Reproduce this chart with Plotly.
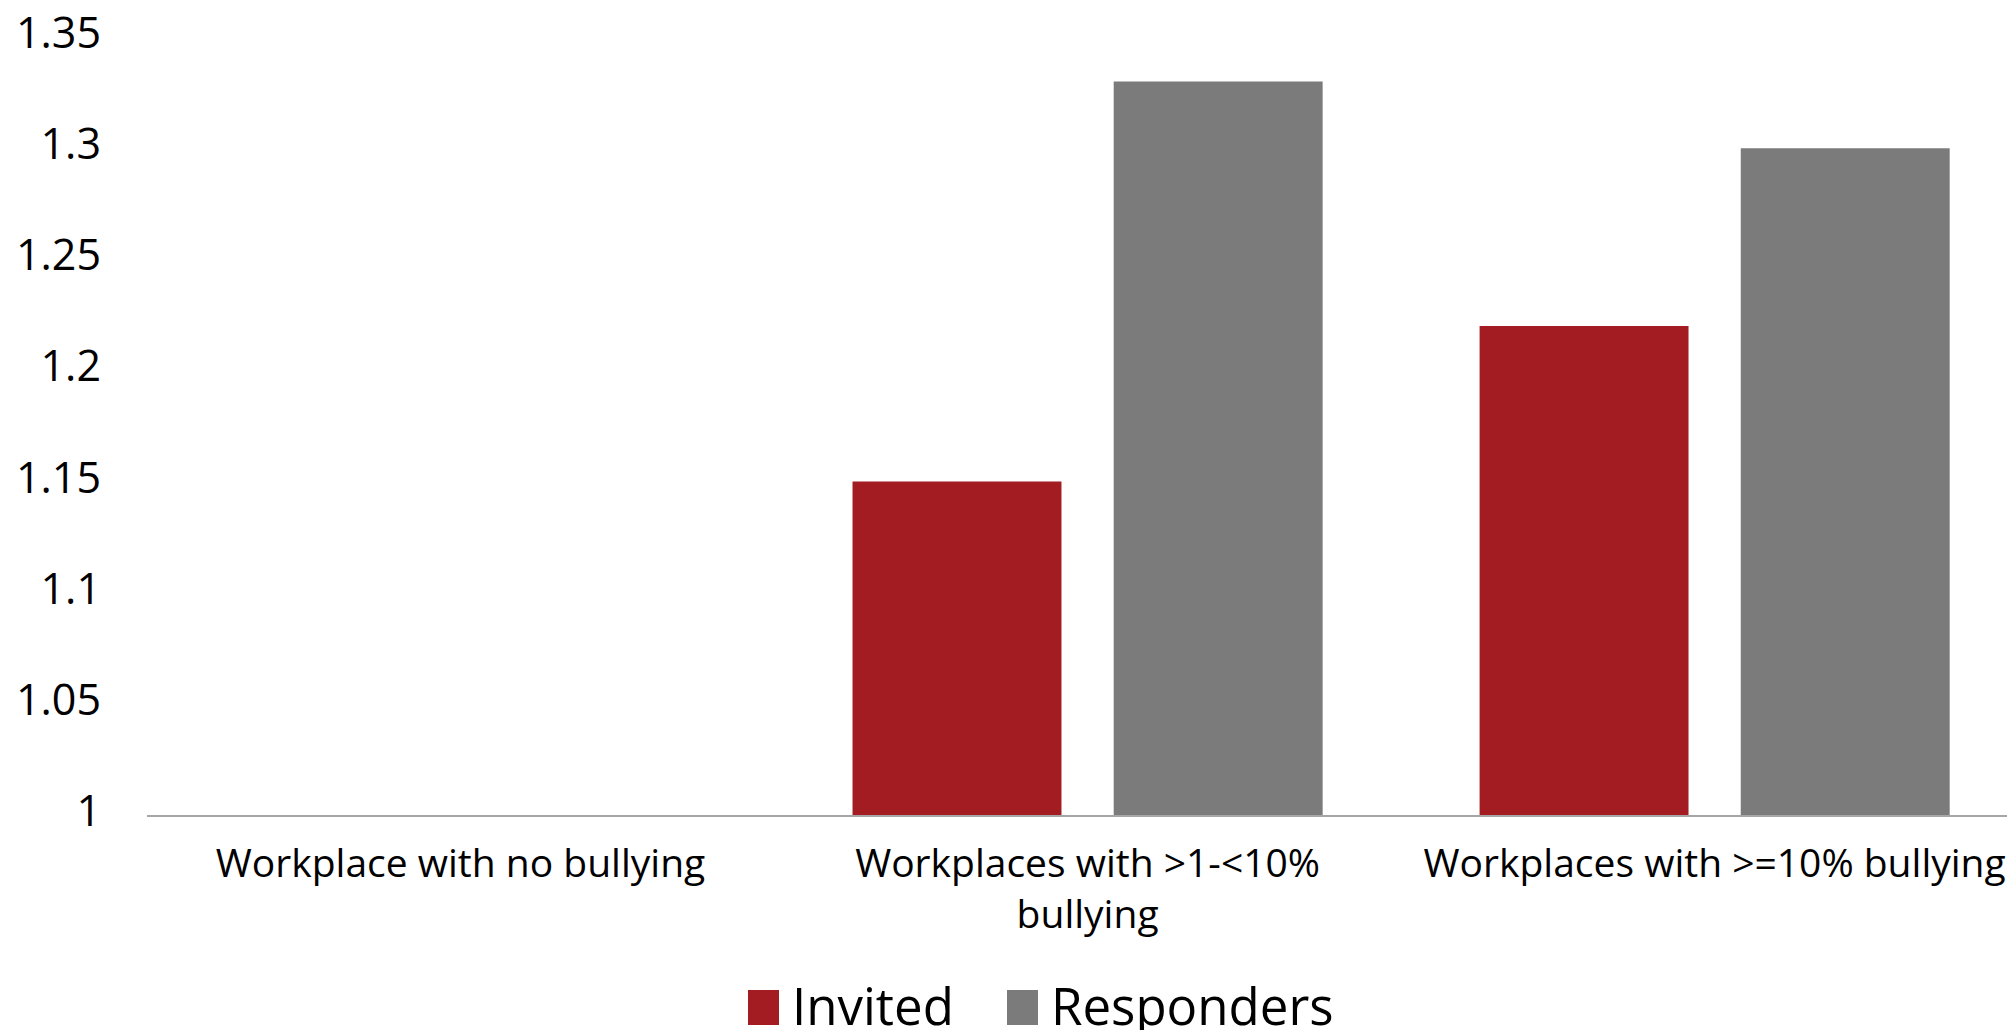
"""
Relative ratio of invited vs responders by workplace bullying level.
"""

import plotly.graph_objects as go

# ---- data --------------------------------------------------------------
categories = [
    "Workplace with no bullying",
    "Workplaces with >1-<10%<br>bullying",
    "Workplaces with >=10% bullying",
]
invited = [1.0, 1.15, 1.22]
responders = [1.0, 1.33, 1.30]
series_names = ["Invited", "Responders"]
y_ticks = [1, 1.05, 1.1, 1.15, 1.2, 1.25, 1.3, 1.35]
y_tick_text = ["1", "1.05", "1.1", "1.15", "1.2", "1.25", "1.3", "1.35"]

RED = "#A21C21"
GREY = "#7B7B7B"
FONT = "Open Sans"

# page body adds an 8px margin, so the figure is a little smaller
W, H = 2007, 1030
L, T, B = 139, 29, 223

fig = go.Figure()
for name, vals, col in zip(series_names, [invited, responders], [RED, GREY]):
    fig.add_trace(go.Bar(
        x=categories,
        y=vals,
        name=name,
        marker=dict(color=col, line=dict(width=0)),
        showlegend=False,
    ))

# legend drawn by hand so the swatches can be as large as the original
plot_w = W - L
plot_h = H - T - B


def px_x(px):
    return (px - L) / plot_w


def px_y(py):
    return (H - B - py) / plot_h


legend_items = [(series_names[0], RED, 740), (series_names[1], GREY, 999)]
for name, col, x0 in legend_items:
    fig.add_shape(
        type="rect", xref="paper", yref="paper",
        x0=px_x(x0), x1=px_x(x0 + 31), y0=px_y(1017), y1=px_y(982),
        fillcolor=col, line=dict(width=0),
    )
    fig.add_annotation(
        xref="paper", yref="paper", x=px_x(x0 + 42), y=px_y(997),
        text=name, showarrow=False, xanchor="left", yanchor="middle",
        font=dict(family=FONT, size=51, color="#000000"),
    )

fig.update_layout(
    width=W,
    height=H,
    margin=dict(l=L, r=0, t=T, b=B, autoexpand=False),
    paper_bgcolor="white",
    plot_bgcolor="white",
    barmode="group",
    bargap=0.167,
    bargroupgap=0.2,
    font=dict(family=FONT, color="#000000"),
    xaxis=dict(
        range=[-0.5, 2.479],
        showline=True, linecolor="#A6A6A6", linewidth=2,
        showgrid=False, zeroline=False, ticks="",
        tickfont=dict(size=39),
        ticklabelstandoff=13,
        ticklabeloverflow="allow",
        automargin=False,
    ),
    yaxis=dict(
        range=[1, 1.35],
        tickvals=y_ticks, ticktext=y_tick_text,
        showline=False, showgrid=False, zeroline=False, ticks="",
        tickfont=dict(size=43),
        ticklabelstandoff=45,
        ticklabelshift=-4,
        ticklabeloverflow="allow",
        automargin=False,
    ),
)

fig.write_html("out.html")
